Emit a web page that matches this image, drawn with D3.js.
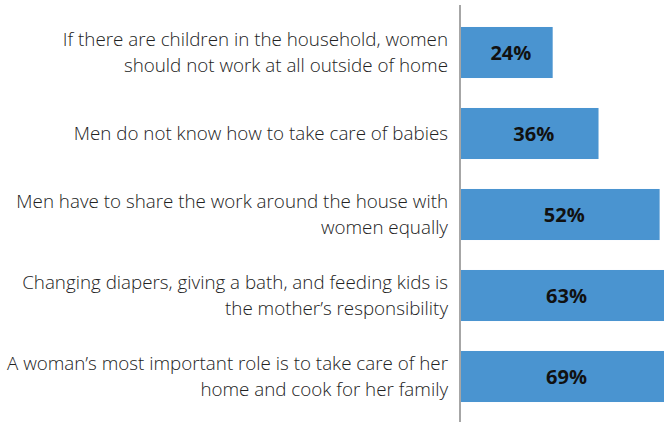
<!DOCTYPE html>
<html>
<head>
<meta charset="utf-8">
<script src="https://cdn.jsdelivr.net/npm/d3@7"></script>
<style>
  html, body { margin: 0; padding: 0; background: #fff; }
  svg { display: block; }
</style>
</head>
<body>
<div id="chart"></div>
<script>
// Survey statements (each split into its display lines) and share agreeing, in %
const statements = [
  ["If there are children in the household, women", "should not work at all outside of home"],
  ["Men do not know how to take care of babies"],
  ["Men have to share the work around the house with", "women equally"],
  ["Changing diapers, giving a bath, and feeding kids is", "the mother\u2019s responsibility"],
  ["A woman\u2019s most important role is to take care of her", "home and cook for her family"]
];
const shares = [24, 36, 52, 63, 69];

const width = 664, height = 422;
const axisX = 460;

const svg = d3.select("#chart").append("svg")
  .attr("width", width)
  .attr("height", height);

const x = d3.scaleLinear().domain([0, 100]).range([axisX + 1, axisX + 1 + 382]);
const y = d3.scaleBand()
  .domain(d3.range(shares.length))
  .range([12, 417])
  .paddingInner(0.37)
  .paddingOuter(0.185);

// bars
svg.append("g").selectAll("rect")
  .data(shares)
  .join("rect")
  .attr("x", x(0))
  .attr("y", (d, i) => y(i))
  .attr("width", d => x(d) - x(0))
  .attr("height", y.bandwidth())
  .attr("fill", "#4a94d0");

// value labels, centred on the visible part of each bar
svg.append("g").selectAll("text")
  .data(shares)
  .join("text")
  .attr("x", d => (x(0) + Math.min(x(d), width)) / 2 + 4)
  .attr("y", (d, i) => y(i) + y.bandwidth() / 2)
  .attr("dy", "0.36em")
  .attr("text-anchor", "middle")
  .attr("font-family", "'Open Sans', sans-serif")
  .attr("font-weight", 700)
  .attr("font-size", 20)
  .attr("fill", "#111")
  .text(d => d + "%");

// category axis on the left, labels right-aligned against it
const axis = d3.axisLeft(y).tickSize(0).tickFormat("");
const gAxis = svg.append("g")
  .attr("transform", `translate(${axisX},0)`)
  .call(axis);
gAxis.select(".domain")
  .attr("d", `M0,5V${height}`)
  .attr("stroke", "#a6a6a6")
  .attr("stroke-width", 2);

const lineH = 26;
gAxis.selectAll(".tick").each(function (d) {
  const lines = statements[d];
  const t = d3.select(this).select("text")
    .attr("x", -12)
    .attr("y", 0)
    .attr("dy", null)
    .attr("text-anchor", "end")
    .attr("font-family", "'Open Sans', sans-serif")
    .attr("font-weight", 300)
    .attr("font-size", 18.8)
    .attr("fill", "#222");
  t.selectAll("tspan")
    .data(lines)
    .join("tspan")
    .attr("x", -12)
    .attr("y", (l, k) => (k - (lines.length - 1) / 2) * lineH)
    .attr("dy", "0.35em")
    .text(l => l);
});
</script>
</body>
</html>
